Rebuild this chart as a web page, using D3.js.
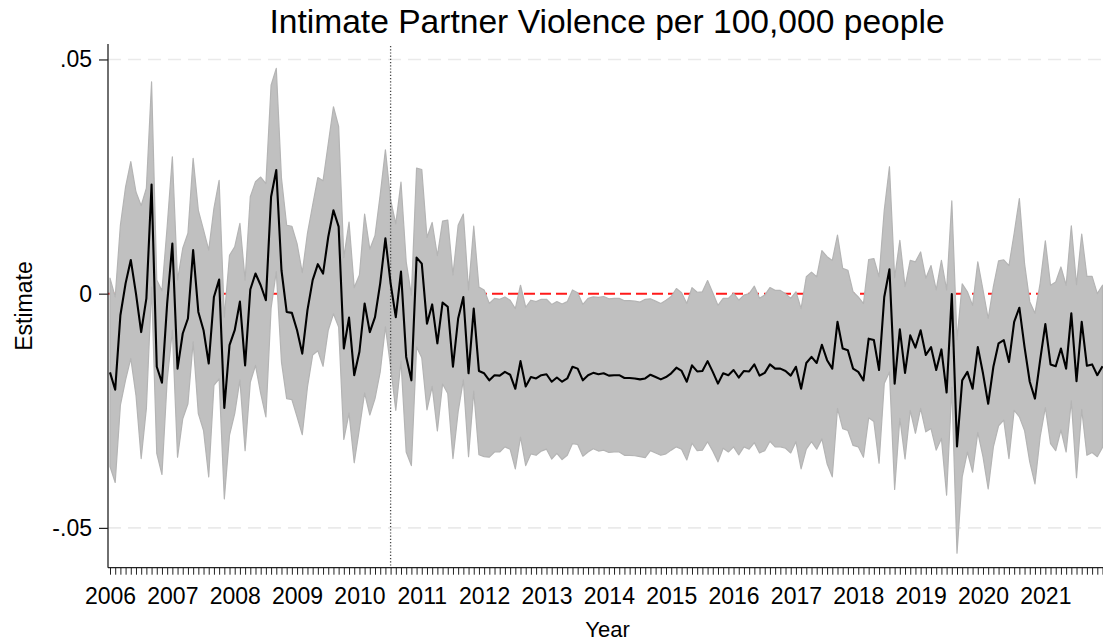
<!DOCTYPE html>
<html>
<head>
<meta charset="utf-8">
<script src="https://cdn.jsdelivr.net/npm/d3@7"></script>
<style>
  html, body { margin: 0; padding: 0; background: #ffffff; }
  svg { display: block; }
  text { font-family: "Liberation Sans", Arial, Helvetica, sans-serif; fill: #000; }
</style>
</head>
<body>
<svg id="chart" width="1103" height="643"></svg>
<script>
// ---------------- DATA ----------------
const title = "Intimate Partner Violence per 100,000 people";
const xTitle = "Year";
const yTitle = "Estimate";
const startYear = 2006;
const yearLabels = ["2006","2007","2008","2009","2010","2011","2012","2013","2014","2015","2016","2017","2018","2019","2020","2021"];
const yTickValues = [0.05, 0, -0.05];
const yTickLabels = [".05", "0", "-.05"];
const referenceValue = 0;          // red dashed line
const markerMonthIndex = 54;       // 2010m7, dotted vertical line

// monthly point estimates, 2006m1 .. 2021m12
const estimate = [
 -0.0168,-0.0205,-0.0046,0.0022,0.0072,0.0000,-0.0082,-0.0010,0.0233,-0.0156,-0.0190,-0.0021,
 0.0107,-0.0160,-0.0085,-0.0053,0.0093,-0.0039,-0.0078,-0.0149,-0.0007,0.0030,-0.0244,-0.0110,
 -0.0078,-0.0017,-0.0153,0.0009,0.0043,0.0018,-0.0014,0.0207,0.0264,0.0050,-0.0039,-0.0041,
 -0.0078,-0.0128,-0.0035,0.0029,0.0063,0.0043,0.0121,0.0178,0.0143,-0.0117,-0.0051,-0.0174,
 -0.0124,-0.0021,-0.0082,-0.0050,0.0022,0.0118,0.0022,-0.0050,0.0047,-0.0135,-0.0185,0.0077,
 0.0064,-0.0064,-0.0023,-0.0106,-0.0019,-0.0028,-0.0156,-0.0053,-0.0007,-0.0170,-0.0032,-0.0165,
 -0.0170,-0.0185,-0.0174,-0.0175,-0.0167,-0.0173,-0.0203,-0.0144,-0.0198,-0.0178,-0.0181,-0.0174,
 -0.0172,-0.0188,-0.0179,-0.0188,-0.0181,-0.0156,-0.0160,-0.0185,-0.0174,-0.0169,-0.0172,-0.0170,
 -0.0175,-0.0174,-0.0174,-0.0180,-0.0180,-0.0181,-0.0183,-0.0181,-0.0173,-0.0178,-0.0183,-0.0178,
 -0.0170,-0.0158,-0.0165,-0.0188,-0.0153,-0.0166,-0.0165,-0.0144,-0.0167,-0.0192,-0.0170,-0.0174,
 -0.0163,-0.0179,-0.0165,-0.0166,-0.0151,-0.0175,-0.0169,-0.0151,-0.0160,-0.0160,-0.0165,-0.0175,
 -0.0156,-0.0203,-0.0148,-0.0135,-0.0148,-0.0109,-0.0142,-0.0160,-0.0060,-0.0117,-0.0121,-0.0160,
 -0.0167,-0.0185,-0.0096,-0.0099,-0.0163,-0.0007,0.0052,-0.0192,-0.0076,-0.0169,-0.0089,-0.0115,
 -0.0078,-0.0131,-0.0114,-0.0163,-0.0119,-0.0211,-0.0001,-0.0326,-0.0185,-0.0167,-0.0203,-0.0114,
 -0.0170,-0.0235,-0.0156,-0.0106,-0.0099,-0.0146,-0.0060,-0.0030,-0.0114,-0.0188,-0.0224,-0.0142,
 -0.0065,-0.0151,-0.0155,-0.0117,-0.0160,-0.0042,-0.0187,-0.0060,-0.0154,-0.0151,-0.0174,-0.0155
];

// half-width of the 95% confidence interval for each month
const ciMargin = [
 0.0201,0.0198,0.0192,0.0206,0.0210,0.0217,0.0270,0.0235,0.0219,0.0185,0.0196,0.0164,
 0.0185,0.0189,0.0182,0.0182,0.0196,0.0217,0.0214,0.0242,0.0189,0.0212,0.0194,0.0192,
 0.0178,0.0167,0.0182,0.0198,0.0196,0.0231,0.0249,0.0238,0.0217,0.0196,0.0185,0.0185,
 0.0185,0.0173,0.0164,0.0160,0.0185,0.0198,0.0199,0.0221,0.0214,0.0194,0.0204,0.0187,
 0.0164,0.0191,0.0177,0.0174,0.0189,0.0189,0.0178,0.0199,0.0191,0.0203,0.0182,0.0191,
 0.0201,0.0184,0.0175,0.0187,0.0174,0.0185,0.0196,0.0199,0.0177,0.0178,0.0176,0.0179,
 0.0178,0.0164,0.0164,0.0163,0.0160,0.0159,0.0171,0.0162,0.0169,0.0164,0.0164,0.0162,
 0.0160,0.0165,0.0162,0.0166,0.0164,0.0164,0.0162,0.0162,0.0164,0.0162,0.0164,0.0164,
 0.0164,0.0164,0.0164,0.0165,0.0165,0.0165,0.0165,0.0169,0.0162,0.0162,0.0162,0.0164,
 0.0164,0.0169,0.0167,0.0167,0.0166,0.0169,0.0169,0.0172,0.0169,0.0167,0.0160,0.0164,
 0.0164,0.0165,0.0162,0.0166,0.0167,0.0165,0.0166,0.0164,0.0167,0.0167,0.0165,0.0165,
 0.0160,0.0171,0.0184,0.0181,0.0184,0.0201,0.0221,0.0231,0.0185,0.0171,0.0171,0.0164,
 0.0160,0.0164,0.0169,0.0174,0.0199,0.0185,0.0219,0.0226,0.0190,0.0184,0.0160,0.0183,
 0.0167,0.0164,0.0174,0.0171,0.0190,0.0219,0.0199,0.0228,0.0206,0.0171,0.0178,0.0182,
 0.0178,0.0182,0.0171,0.0176,0.0171,0.0206,0.0189,0.0233,0.0178,0.0171,0.0182,0.0164,
 0.0178,0.0169,0.0180,0.0174,0.0178,0.0187,0.0206,0.0187,0.0191,0.0188,0.0174,0.0173
];

// ---------------- LAYOUT ----------------
const W = 1103, H = 643;
const plot = { left: 108, right: 1103, top: 44, bottom: 567.7 };
const FONT = 23;

const svg = d3.select("#chart");

const data = estimate.map((e, i) => ({ i, est: e, lo: e - ciMargin[i], hi: e + ciMargin[i] }));

const x = d3.scaleLinear().domain([0, estimate.length - 1]).range([110, 1102.5]);
const y = d3.scaleLinear().domain([-0.0585, 0.0533]).range([plot.bottom, plot.top]);

// gridlines
svg.append("g").selectAll("line")
  .data(yTickValues.filter(v => v !== referenceValue))
  .join("line")
  .attr("x1", plot.left).attr("x2", plot.right)
  .attr("y1", d => y(d)).attr("y2", d => y(d))
  .attr("stroke", "#eaeaea").attr("stroke-width", 1.6)
  .attr("stroke-dasharray", "13,7");

// reference line at zero (red dashed)
svg.append("line")
  .attr("x1", plot.left).attr("x2", plot.right)
  .attr("y1", y(referenceValue)).attr("y2", y(referenceValue))
  .attr("stroke", "#ff1a1a").attr("stroke-width", 2)
  .attr("stroke-dasharray", "11,5");

// CI band
const area = d3.area().x(d => x(d.i)).y0(d => y(d.lo)).y1(d => y(d.hi));
svg.append("path").datum(data)
  .attr("d", area)
  .attr("fill", "#c0c0c0")
  .attr("stroke", "#b4b4b4").attr("stroke-width", 1.2)
  .attr("stroke-linejoin", "round");

// dotted vertical marker line
svg.append("line")
  .attr("x1", x(markerMonthIndex)).attr("x2", x(markerMonthIndex))
  .attr("y1", plot.top + 2).attr("y2", plot.bottom)
  .attr("stroke", "#444").attr("stroke-width", 1.3)
  .attr("stroke-dasharray", "1.2,2");

// estimate line
const line = d3.line().x(d => x(d.i)).y(d => y(d.est));
svg.append("path").datum(data)
  .attr("d", line)
  .attr("fill", "none")
  .attr("stroke", "#000").attr("stroke-width", 2.1)
  .attr("stroke-linejoin", "round");

// x axis
const xAxis = d3.axisBottom(x)
  .tickValues(d3.range(estimate.length))
  .tickSize(7).tickSizeOuter(0).tickPadding(13)
  .tickFormat(d => d % 12 === 0 ? yearLabels[d / 12] : "");
const gx = svg.append("g").attr("transform", `translate(0,${plot.bottom})`).call(xAxis);
gx.select(".domain").remove();
gx.selectAll(".tick line").attr("stroke", "#222").attr("stroke-width", 1);
gx.selectAll(".tick text").attr("font-size", FONT).attr("font-family", '"Liberation Sans", Arial, sans-serif').attr("fill", "#000");
svg.append("line").attr("x1", plot.left).attr("x2", plot.right)
  .attr("y1", plot.bottom).attr("y2", plot.bottom)
  .attr("stroke", "#222").attr("stroke-width", 1.3);

// y axis
const yAxis = d3.axisLeft(y)
  .tickValues(yTickValues)
  .tickSize(9).tickSizeOuter(0).tickPadding(7)
  .tickFormat((d, k) => yTickLabels[k]);
const gy = svg.append("g").attr("transform", `translate(${plot.left},0)`).call(yAxis);
gy.select(".domain").remove();
gy.selectAll(".tick line").attr("stroke", "#222").attr("stroke-width", 1.2);
gy.selectAll(".tick text").attr("font-size", FONT).attr("font-family", '"Liberation Sans", Arial, sans-serif').attr("fill", "#000");
svg.append("line").attr("x1", plot.left).attr("x2", plot.left)
  .attr("y1", plot.top).attr("y2", plot.bottom)
  .attr("stroke", "#222").attr("stroke-width", 1.3);

// titles
svg.append("text").attr("x", 607).attr("y", 33.3)
  .attr("text-anchor", "middle").attr("font-size", 33.6).text(title);
svg.append("text").attr("x", 607.5).attr("y", 636.5)
  .attr("text-anchor", "middle").attr("font-size", 22).text(xTitle);
svg.append("text").attr("transform", "translate(31.5,306) rotate(-90)")
  .attr("text-anchor", "middle").attr("font-size", 23).text(yTitle);
</script>
</body>
</html>
